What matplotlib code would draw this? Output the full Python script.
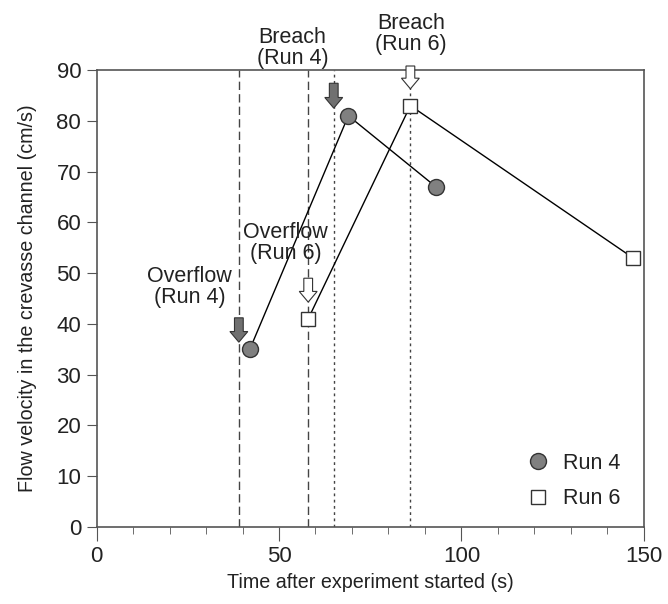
import matplotlib
matplotlib.use('Agg')
import matplotlib.pyplot as plt
from matplotlib.lines import Line2D
from matplotlib.ticker import MultipleLocator

plt.rcParams['font.family'] = ['Liberation Sans', 'DejaVu Sans']

# data
run4_t = [42, 69, 93]
run4_v = [35, 81, 67]
run6_t = [58, 86, 147]
run6_v = [41, 83, 53]

overflow_lines = [39, 58]   # dashed
breach_lines = [65, 86]     # dotted

# events: label, x, arrow top, arrow bottom, fill colour, text x, text y
events = [
    ('Overflow\n(Run 4)', 39, 41.2, 36.4, '#707070', 25.5, 47.2),
    ('Overflow\n(Run 6)', 58, 49.0, 44.3, 'white', 51.8, 56.0),
    ('Breach\n(Run 4)', 65, 87.4, 82.5, '#707070', 53.7, 94.4),
    ('Breach\n(Run 6)', 86, 90.8, 86.3, 'white', 86.1, 97.2),
]

spine_col = '#555555'
text_col = '#222222'

fig = plt.figure(figsize=(6.68, 6.04), dpi=100)
ax = fig.add_axes([0.1445, 0.1275, 0.8195, 0.7565])

for x in overflow_lines:
    ax.axvline(x, color='#444444', linestyle=(0, (6, 3)), linewidth=1)
for x in breach_lines:
    ax.axvline(x, color='#444444', linestyle=(0, (2, 2.5)), linewidth=1)

run4_style = dict(marker='o', markersize=11.5, markerfacecolor='#808080', markeredgecolor='#333333')
run6_style = dict(marker='s', markersize=10, markerfacecolor='white', markeredgecolor='#333333')

ax.plot(run4_t, run4_v, color='black', linewidth=1, zorder=3, **run4_style)
ax.plot(run6_t, run6_v, color='black', linewidth=1, zorder=3, **run6_style)

for label, x, top, bot, fc, tx, ty in events:
    ax.arrow(x, top, 0, bot - top, width=2.4, head_width=4.9, head_length=2.1,
             length_includes_head=True, facecolor=fc, edgecolor='#333333',
             linewidth=0.8, clip_on=False, zorder=4)
    ax.text(tx, ty, label, ha='center', va='center', fontsize=15.5,
            color=text_col, linespacing=1.0)

ax.set_xlim(0, 150)
ax.set_ylim(0, 90)
ax.xaxis.set_major_locator(MultipleLocator(50))
ax.xaxis.set_minor_locator(MultipleLocator(10))
ax.yaxis.set_major_locator(MultipleLocator(10))
ax.tick_params(axis='x', which='major', length=10, color=spine_col, labelsize=16,
               pad=4, labelcolor=text_col)
ax.tick_params(axis='x', which='minor', length=5, color=spine_col)
ax.tick_params(axis='y', which='major', length=7, color=spine_col, labelsize=16,
               pad=4, labelcolor=text_col)
for s in ax.spines.values():
    s.set_color(spine_col)
    s.set_linewidth(1.2)

ax.set_xlabel('Time after experiment started (s)', fontsize=14.2, color=text_col)
ax.set_ylabel('Flow velocity in the crevasse channel (cm/s)', fontsize=14.2,
              color=text_col, labelpad=14)

handles = [Line2D([], [], linestyle='none', **run4_style),
           Line2D([], [], linestyle='none', **run6_style)]
ax.legend(handles, ['Run 4', 'Run 6'], loc='upper left', frameon=False, fontsize=15.5,
          handlelength=1.0, handletextpad=0.65, labelspacing=0.68, borderpad=0,
          borderaxespad=0, bbox_to_anchor=(0.787, 0.163), labelcolor=text_col)

fig.savefig('out.png', dpi=100)
